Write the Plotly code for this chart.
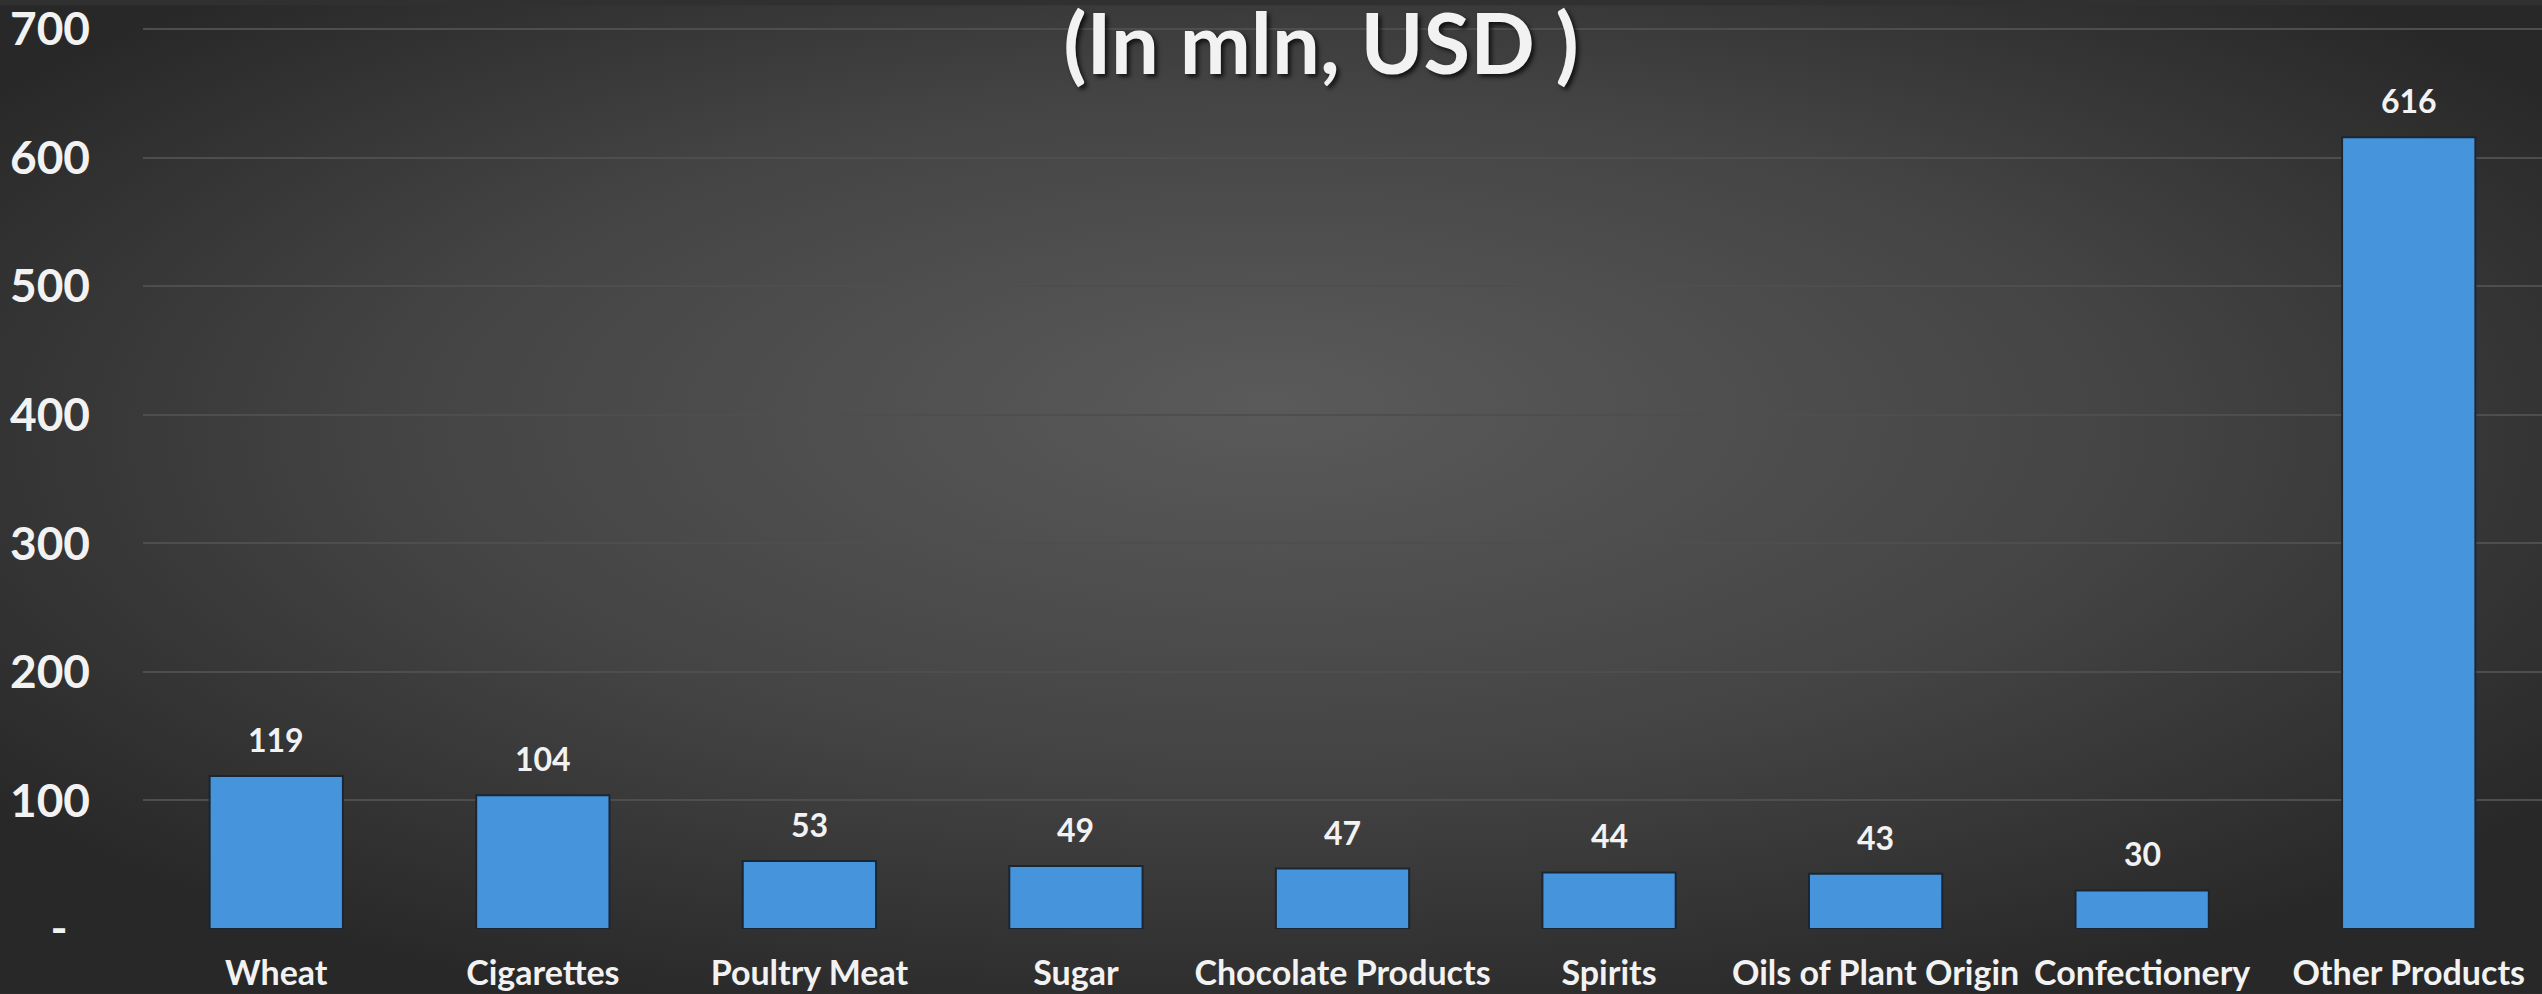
import base64
import plotly.graph_objects as go

categories = ["Wheat", "Cigarettes", "Poultry Meat", "Sugar", "Chocolate Products",
              "Spirits", "Oils of Plant Origin", "Confectionery", "Other Products"]
values = [119, 104, 53, 49, 47, 44, 43, 30, 616]
y_tick_vals = [0, 100, 200, 300, 400, 500, 600, 700]
y_tick_text = ["-\u00a0\u00a0", "100", "200", "300", "400", "500", "600", "700"]
title_text = "(In mln, USD )"

W, H = 2542, 994
L, R, T, B = 143, 0, 23, 65
pw, ph = W - L - R, H - T - B

svg = f'''<svg xmlns="http://www.w3.org/2000/svg" width="{W}" height="{H}" viewBox="0 0 {W} {H}" preserveAspectRatio="none">
<defs><radialGradient id="g" cx="50%" cy="45%" r="62%" fx="50%" fy="40%">
<stop offset="0%" stop-color="#5a5a5a"/><stop offset="55%" stop-color="#444444"/><stop offset="100%" stop-color="#282828"/>
</radialGradient></defs><rect width="100%" height="100%" fill="url(#g)"/></svg>'''
src = "data:image/svg+xml;base64," + base64.b64encode(svg.encode()).decode()

font = "Lato, 'Open Sans', sans-serif"
txt = "#f2f2f2"

fig = go.Figure()
fig.add_trace(go.Bar(
    x=categories, y=values,
    marker=dict(color="#4694dc", line=dict(color="#1a2733", width=2)),
    width=0.5,
))
for c, v in zip(categories, values):
    fig.add_annotation(x=c, y=v, text=str(v), showarrow=False, yanchor="bottom",
                       yshift=15, font=dict(family=font, size=32, color=txt, weight="bold"))

fig.update_layout(
    width=W, height=H,
    margin=dict(l=L, r=R, t=T, b=B),
    paper_bgcolor="#303030",
    plot_bgcolor="rgba(0,0,0,0)",
    showlegend=False,
    bargap=0.5,
    images=[dict(source=src, xref="paper", yref="paper", x=-L / pw, y=1 + T / ph,
                 sizex=W / pw, sizey=H / ph, sizing="stretch", layer="below", xanchor="left", yanchor="top")],
    title=dict(text=title_text, x=1321 / W, xanchor="center", xref="container", y=1 - 44 / H, yanchor="middle",
               yref="container",
               font=dict(family=font, size=85, color=txt, weight="bold",
                         shadow="3px 3px 4px rgba(0,0,0,0.7)")),
    xaxis=dict(tickfont=dict(family=font, size=34, color=txt, weight="bold"),
               showgrid=False, zeroline=False, showline=False, ticks="", ticklabelstandoff=21,
               ticklabeloverflow="allow"),
    yaxis=dict(range=[0, 701], tickvals=y_tick_vals, ticktext=y_tick_text,
               tickfont=dict(family=font, size=46, color=txt, weight="bold"),
               showgrid=True, gridcolor="#4e4e4e", gridwidth=2, zeroline=False, showline=False,
               ticks="", ticklabelstandoff=52, ticklabeloverflow="allow"),
)
fig.write_html("out.html", config={"displayModeBar": False},
               post_script="document.body.style.margin='0px';document.body.style.overflow='hidden';")
